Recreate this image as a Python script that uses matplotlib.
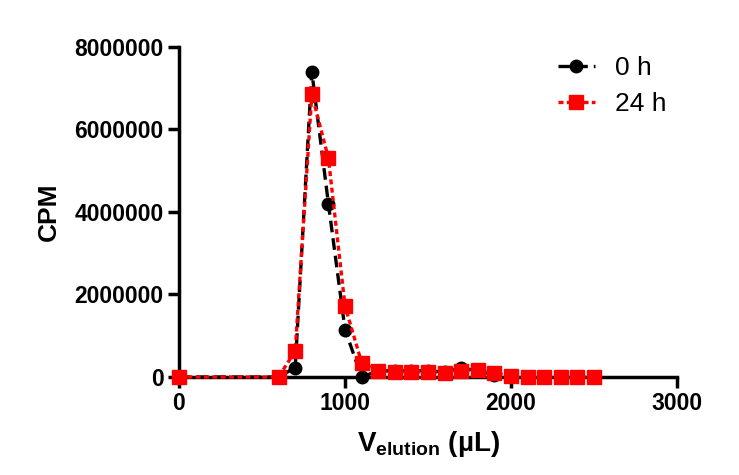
import matplotlib.pyplot as plt

plt.rcParams['font.family'] = ['Liberation Sans', 'DejaVu Sans']
plt.rcParams['mathtext.fontset'] = 'custom'
plt.rcParams['mathtext.rm'] = 'Liberation Sans'
plt.rcParams['mathtext.bf'] = 'Liberation Sans:bold'

# elution volume (uL)
vol_0h = [0, 600, 700, 800, 900, 1000, 1100, 1200, 1300, 1400, 1500, 1600, 1700, 1800, 1900]
cpm_0h = [0, 0, 230000, 7400000, 4200000, 1150000, 0, 150000, 150000, 150000, 150000,
          120000, 220000, 150000, 50000]

vol_24h = [0, 600, 700, 800, 900, 1000, 1100, 1200, 1300, 1400, 1500, 1600, 1700, 1800,
           1900, 2000, 2100, 2200, 2300, 2400, 2500]
cpm_24h = [0, 0, 630000, 6850000, 5300000, 1720000, 350000, 150000, 120000, 120000, 120000,
           100000, 150000, 180000, 100000, 20000, 0, 0, 0, 0, 0]

xticks = [0, 1000, 2000, 3000]
yticks = [0, 2000000, 4000000, 6000000, 8000000]

fig = plt.figure(figsize=(7.39, 4.75), dpi=100)
ax = fig.add_axes([0.2422, 0.2063, 0.674, 0.695])

ax.plot(vol_0h, cpm_0h, color='black', linestyle=(0, (3.5, 1.8)), linewidth=2.4,
        marker='o', markersize=9, label='0 h', clip_on=False, zorder=3)
ax.plot(vol_24h, cpm_24h, color='red', linestyle=(0, (1.5, 1)), linewidth=2.4,
        marker='s', markersize=10, label='24 h', clip_on=False, zorder=4)

ax.set_xlim(0, 3000)
ax.set_ylim(0, 8000000)
ax.set_xticks(xticks)
ax.set_yticks(yticks)
ax.set_xticklabels([str(t) for t in xticks], fontsize=16.5, fontweight='bold')
ax.set_yticklabels([str(t) for t in yticks], fontsize=16.5, fontweight='bold')

for side in ['top', 'right']:
    ax.spines[side].set_visible(False)
for side in ['left', 'bottom']:
    ax.spines[side].set_linewidth(2.5)
ax.tick_params(width=2.5, length=8, pad=3)

ax.set_xlabel(r'V$_{\mathbf{elution}}$ (µL)', fontsize=20, fontweight='bold', labelpad=10)
ax.set_ylabel('CPM', fontsize=19, fontweight='bold', labelpad=10)

ax.legend(loc='upper left', bbox_to_anchor=(558 / 739, 1 - 56 / 475),
          bbox_transform=fig.transFigure, frameon=False, fontsize=19,
          borderpad=0, borderaxespad=0, handlelength=1.4, handletextpad=0.75,
          labelspacing=0.45)

fig.savefig('out.png', dpi=100)
